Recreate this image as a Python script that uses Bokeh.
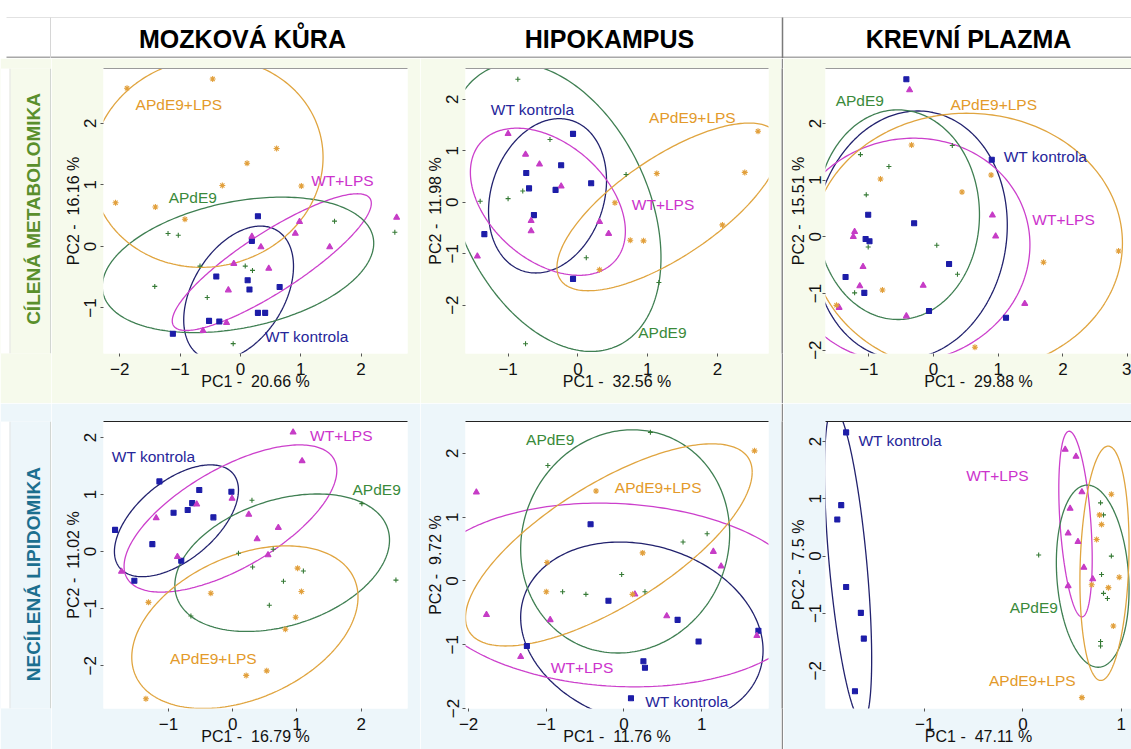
import numpy as np
from bokeh.plotting import figure
from bokeh.layouts import column, row
from bokeh.models import Range1d, FixedTicker, LinearAxis
from bokeh.core.properties import value
from bokeh.embed import file_html
from bokeh.resources import INLINE

FONT = "Liberation Sans"
GROUP_KEYS = ["WT", "LPS", "AP", "APL"]
GROUP_NAMES = {"WT": "WT kontrola", "LPS": "WT+LPS", "AP": "APdE9", "APL": "APdE9+LPS"}
COL_TITLES = ["MOZKOVÁ KŮRA", "HIPOKAMPUS", "KREVNÍ PLAZMA"]
ROW_TITLES = ["CÍLENÁ METABOLOMIKA", "NECÍLENÁ LIPIDOMIKA"]
NB = "\u00a0"

# ---------------- Panel 1: Mozková kůra / cílená metabolomika ----------------
P1_WT = [(0.29, 0.49), (0.19, 0.09), (-0.40, -0.49), (0.12, -0.55), (0.15, -0.70), (0.65, -0.66),
         (0.29, -1.08), (0.41, -1.08), (-0.52, -1.21), (-0.35, -1.22), (-1.12, -1.42)]
P1_LPS = [(2.59, 0.47), (0.98, 0.40), (0.91, 0.21), (0.19, 0.16), (0.34, -0.01), (1.48, -0.01),
          (-0.11, -0.28), (0.47, -0.36), (-0.20, -0.71), (-0.23, -1.24), (-0.62, -1.37)]
P1_AP = [(-1.20, 0.21), (-1.03, 0.18), (1.56, 0.41), (2.56, 0.23), (-0.67, -0.32), (0.08, -0.32),
         (0.20, -0.39), (-1.42, -0.65), (-0.55, -0.83), (-0.12, -1.58)]
P1_APL = [(-1.88, 2.57), (-0.46, 2.72), (0.60, 1.59), (0.11, 1.35), (-0.30, 0.99), (1.01, 0.98),
          (-2.07, 0.71), (-1.41, 0.64), (-0.92, 0.44)]
# ellipse: centre x, centre y, half-width x, half-height y, correlation
P1_ELL = {"WT": (-0.03, -0.76, 0.91, 1.09, 0.40), "LPS": (0.52, -0.255, 1.65, 1.11, 0.86),
          "AP": (-0.04, -0.30, 2.25, 1.10, 0.32), "APL": (-0.55, 1.36, 1.92, 1.70, 0.05)}
P1_LBL = {"WT": (1.10, -1.47), "LPS": (1.69, 1.07), "AP": (-0.79, 0.80), "APL": (-1.02, 2.30)}
P1_AX = ((-2.27, 2.77), (-1.74, 2.89), [-2, -1, 0, 1, 2], [-1, 0, 1, 2], "PC1 -  20.66 %", "PC2 -  16.16 %")

# ---------------- Panel 2: Hipokampus / cílená metabolomika ----------------
P2_WT = [(-0.07, 1.33), (-0.74, 0.57), (-0.24, 0.72), (0.19, 0.37), (-0.70, 0.27), (-0.32, 0.24),
         (-0.63, -0.25), (-1.34, -0.62), (-0.07, -1.49)]
P2_LPS = [(-1.00, 1.33), (-0.75, 0.93), (-0.55, 0.74), (-0.24, 0.31), (-0.67, -0.36), (-0.67, -0.56),
          (0.31, -0.38), (0.44, -0.61), (-1.44, -1.05)]
P2_AP = [(-0.86, 2.39), (-0.40, 1.22), (-1.40, 0.02), (-1.00, 0.07), (-0.79, 0.22), (0.69, 0.54),
         (0.12, -1.08), (1.16, -1.56), (-0.75, -2.75)]
P2_APL = [(2.58, 1.38), (2.39, 0.58), (1.13, 0.56), (0.53, -0.01), (2.07, -0.44), (0.75, -0.74),
          (0.94, -0.75), (0.31, -1.31)]
P2_ELL = {"WT": (-0.435, 0.125, 0.845, 1.50, 0.20), "LPS": (-0.43, 0.01, 1.11, 1.43, -0.40),
          "AP": (-0.35, -0.10, 1.54, 2.80, -0.35), "APL": (1.30, -0.09, 1.60, 1.63, 0.72)}
P2_LBL = {"WT": (-0.65, 1.80), "LPS": (1.22, -0.04), "AP": (1.21, -2.53), "APL": (1.64, 1.64)}
P2_AX = ((-1.61, 2.73), (-2.94, 2.60), [-1, 0, 1, 2], [-2, -1, 0, 1, 2], "PC1 -  32.56 %", "PC2 -  11.98 %")

# ---------------- Panel 3: Krevní plazma / cílená metabolomika ----------------
P3_WT = [(-0.42, 2.78), (0.90, 1.36), (-1.01, 0.39), (-0.30, 0.24), (-1.05, -0.04), (-0.99, -0.08),
         (0.24, -0.48), (-1.36, -0.71), (-1.07, -0.99), (-0.07, -1.31), (1.12, -1.43)]
P3_LPS = [(-0.37, 2.59), (0.91, 0.38), (0.96, 0.01), (-1.22, 0.09), (-1.24, 0.00), (-1.09, -0.53),
          (-1.14, -0.87), (-0.16, -0.86), (1.41, -1.18), (-1.46, -1.25), (-0.42, -1.40)]
P3_AP = [(-1.13, 1.45), (0.29, 1.61), (-0.69, 1.24), (-1.04, 0.74), (-1.01, -0.18), (0.05, -0.15),
         (0.37, -0.66), (-1.22, -0.99)]
P3_APL = [(-0.34, 1.62), (-0.82, 1.02), (0.89, 1.09), (0.44, 0.79), (2.86, -0.25), (1.70, -0.45),
          (-0.79, -0.94), (-1.50, -1.21), (0.64, -1.95)]
P3_ELL = {"WT": (-0.36, 0.03, 1.50, 2.19, 0.08), "LPS": (-0.40, -0.24, 1.89, 1.98, 0.05),
          "AP": (-0.55, 0.39, 1.26, 1.85, 0.0), "APL": (0.52, -0.11, 2.40, 2.29, 0.0)}
P3_LBL = {"WT": (1.73, 1.41), "LPS": (2.01, 0.31), "AP": (-1.14, 2.40), "APL": (0.93, 2.34)}
P3_AX = ((-1.67, 3.06), (-2.06, 2.97), [-1, 0, 1, 2, 3], [-2, -1, 0, 1, 2], "PC1 -  29.88 %", "PC2 -  15.51 %")

# ---------------- Panel 4: Mozková kůra / necílená lipidomika ----------------
P4_WT = [(-1.14, 1.23), (-0.52, 1.08), (-0.02, 1.05), (-0.63, 0.85), (-0.70, 0.73), (-0.92, 0.68),
         (-0.30, 0.60), (-1.83, 0.38), (-1.25, 0.13), (-0.80, -0.16), (-1.53, -0.51)]
P4_LPS = [(0.94, 2.09), (1.08, 1.59), (-0.01, 0.93), (-0.56, 0.83), (-1.19, 0.59), (0.25, 0.65),
          (0.71, 0.42), (0.38, 0.22), (0.55, -0.06), (-0.86, -0.09), (-1.73, -0.35)]
P4_AP = [(0.30, 0.90), (2.01, 0.84), (2.54, -0.50), (0.63, 0.04), (0.09, -0.03), (0.31, -0.27),
         (1.10, -0.34), (0.79, -0.52), (0.57, -0.94), (-0.65, -1.13)]
P4_APL = [(1.01, -0.29), (1.07, -0.70), (-0.34, -0.73), (-1.31, -0.89), (0.98, -1.15), (0.82, -1.36),
          (0.53, -2.09), (0.21, -2.17), (-1.35, -2.58)]
P4_ELL = {"WT": (-0.875, 0.54, 0.965, 0.98, 0.55), "LPS": (-0.035, 0.58, 1.655, 1.29, 0.65),
          "AP": (0.77, -0.195, 1.67, 1.205, 0.33), "APL": (0.19, -1.325, 1.76, 1.425, 0.37)}
P4_LBL = {"WT": (-1.23, 1.67), "LPS": (1.69, 2.03), "AP": (2.24, 1.09), "APL": (-0.30, -1.88)}
P4_AX = ((-2.01, 2.72), (-2.75, 2.28), [-1, 0, 1, 2], [-2, -1, 0, 1, 2], "PC1 -  16.79 %", "PC2 -  11.02 %")

# ---------------- Panel 5: Hipokampus / necílená lipidomika ----------------
P5_WT = [(-0.43, 0.89), (-0.20, -0.31), (0.69, -0.61), (1.73, -0.78), (0.96, -0.95), (-1.25, -1.02),
         (0.25, -1.26), (0.27, -1.36), (0.09, -1.84)]
P5_LPS = [(-1.90, 1.39), (1.15, 0.46), (1.25, 0.23), (0.14, -0.21), (-1.77, -0.53), (-0.95, -0.61),
          (0.55, -0.55), (1.71, -0.86), (-1.33, -1.19)]
P5_AP = [(0.34, 2.33), (-0.98, 1.81), (1.07, 0.74), (0.76, 0.61), (-0.03, 0.10), (-0.79, -0.17),
         (-0.49, -0.21), (0.27, -0.17)]
P5_APL = [(1.68, 2.04), (-0.36, 1.41), (0.24, 0.44), (-0.99, 0.29), (-1.00, -0.17), (0.11, -0.21)]
P5_ELL = {"WT": (0.23, -0.83, 1.56, 1.44, -0.18), "LPS": (-0.09, -0.22, 2.50, 1.44, -0.09),
          "AP": (0.015, 0.62, 1.345, 1.75, 0.07), "APL": (-0.195, 0.565, 1.845, 1.585, 0.72)}
P5_LBL = {"WT": (0.81, -1.89), "LPS": (-0.54, -1.36), "AP": (-0.95, 2.21), "APL": (0.44, 1.47)}
P5_AX = ((-2.04, 1.86), (-2.0, 2.5), [-2, -1, 0, 1], [-2, -1, 0, 1, 2], "PC1 -  11.76 %", "PC2 -  9.72 %")

# ---------------- Panel 6: Krevní plazma / necílená lipidomika ----------------
P6_WT = [(-1.80, 2.16), (-1.85, 0.89), (-1.89, 0.64), (-1.80, -0.54), (-1.65, -0.99), (-1.62, -1.44),
         (-1.71, -2.36)]
P6_LPS = [(0.43, 1.86), (0.54, 1.74), (0.60, 1.12), (0.48, 0.83), (0.46, 0.40), (0.56, 0.25),
          (0.62, -0.20), (0.71, -0.40), (0.46, -0.52)]
P6_AP = [(0.16, 0.02), (0.79, 0.93), (0.82, 0.72), (0.90, 0.0), (0.80, -0.32), (0.82, -0.65),
         (0.86, -0.74), (0.79, -1.49), (0.79, -1.57)]
P6_APL = [(0.90, 1.08), (0.78, 0.72), (0.80, 0.55), (0.75, 0.29), (0.98, -0.37), (0.87, -0.55),
          (0.70, -0.50), (0.92, -1.22), (0.60, -2.47)]
P6_ELL = {"WT": (-1.78, -0.15, 0.24, 2.74, -0.60), "LPS": (0.535, 0.56, 0.17, 1.62, -0.38),
          "AP": (0.71, -0.35, 0.37, 1.59, -0.15), "APL": (0.83, -0.125, 0.25, 2.045, 0.15)}
P6_LBL = {"WT": (-1.25, 2.02), "LPS": (-0.26, 1.41), "AP": (0.11, -0.90), "APL": (0.095, -2.17)}
P6_AX = ((-2.01, 1.105), (-2.66, 2.35), [-1, 0, 1], [-2, -1, 0, 1, 2], "PC1 -  47.11 %", "PC2 -  7.5 %")

# ---------------- styling ----------------
BG1 = "#f6faec"
BG2 = "#edf6fa"
STYLE = {
    "WT": dict(marker="square", size=5, pt="#1d1da8", ell="#22226e", txt="#26269a"),
    "LPS": dict(marker="triangle", size=6, pt="#c63cc6", ell="#cc40cc", txt="#cc33cc"),
    "AP": dict(marker="cross", size=5, pt="#357a35", ell="#3f7f52", txt="#3a8a3a"),
    "APL": dict(marker="asterisk", size=6, pt="#e2a03c", ell="#e0a540", txt="#e39a2a"),
}


def ellipse_xy(e, n=260):
    cx, cy, sx, sy, r = e
    t = np.linspace(0, 2 * np.pi, n)
    return cx + sx * np.cos(t), cy + sy * (r * np.cos(t) + np.sqrt(1 - r * r) * np.sin(t))


def tick_overrides(ticks):
    return {t: ("\u2212%g" % abs(t) if t < 0 else "%g" % t) for t in ticks}


def keep_spaces(s):
    return s.replace("  ", " " + NB)


def panel(ax, pts, ells, lbls, w, h, bl, br, bt, bb, bg, topcol, ystand=4):
    xr, yr, xt, yt, xl, yl = ax
    p = figure(width=w, height=h, x_range=Range1d(*xr), y_range=Range1d(*yr),
               output_backend="svg", toolbar_location=None,
               min_border_left=bl, min_border_right=br, min_border_top=bt, min_border_bottom=bb,
               background_fill_color="white", border_fill_color=bg, outline_line_color=None)
    p.xgrid.visible = False
    p.ygrid.visible = False
    xa, ya = p.xaxis[0], p.yaxis[0]
    xa.ticker = FixedTicker(ticks=xt)
    ya.ticker = FixedTicker(ticks=yt)
    xa.major_label_overrides = tick_overrides(xt)
    ya.major_label_overrides = tick_overrides(yt)
    xa.axis_label = keep_spaces(xl)
    ya.axis_label = keep_spaces(yl)
    for a in (xa, ya):
        a.axis_line_color = None
        a.major_tick_line_color = "#555555"
        a.major_tick_in = 0
        a.major_tick_out = 3
        a.minor_tick_line_color = None
        a.major_label_text_font = FONT
        a.major_label_text_font_size = "17px"
        a.major_label_text_color = "#111111"
        a.axis_label_text_font = FONT
        a.axis_label_text_font_size = "16px"
        a.axis_label_text_font_style = "normal"
        a.axis_label_text_color = "#111111"
    xa.major_label_standoff = 6
    xa.axis_label_standoff = -5
    ya.major_label_orientation = "vertical"
    ya.major_label_standoff = ystand
    ya.axis_label_standoff = 0
    top = LinearAxis(ticker=FixedTicker(ticks=[]), axis_line_color=topcol, axis_line_width=1.2,
                     major_tick_line_color=None, minor_tick_line_color=None,
                     major_label_text_font_size="0px")
    p.add_layout(top, "above")

    for k in GROUP_KEYS:
        ex, ey = ellipse_xy(ells[k])
        p.line(ex, ey, line_color=STYLE[k]["ell"], line_width=1.3)
    for k in GROUP_KEYS:
        s = STYLE[k]
        xs = [q[0] for q in pts[k]]
        ys = [q[1] for q in pts[k]]
        p.scatter(xs, ys, marker=s["marker"], size=s["size"], fill_color=s["pt"],
                  line_color=s["pt"], line_width=1.1)
    for k in GROUP_KEYS:
        p.text(x=[lbls[k][0]], y=[lbls[k][1]], text=[GROUP_NAMES[k]], text_color=STYLE[k]["txt"],
               text_font=value(FONT), text_font_size=value("15.5px"),
               text_align="center", text_baseline="middle")
    return p


def header_fig():
    f = figure(width=1131, height=58, x_range=Range1d(0, 1131), y_range=Range1d(-58, 0),
               output_backend="svg", toolbar_location=None, x_axis_type=None, y_axis_type=None,
               min_border=0, outline_line_color=None,
               background_fill_color="white", border_fill_color="white")
    f.segment(x0=[6], y0=[-17], x1=[1131], y1=[-17], line_color="#e2e2e2", line_width=1)
    f.segment(x0=[6], y0=[-57], x1=[1131], y1=[-57], line_color="#a8a8a8", line_width=2)
    f.segment(x0=[50], y0=[-17], x1=[50], y1=[-58], line_color="#d6d6d6", line_width=1)
    f.segment(x0=[782], y0=[-17], x1=[782], y1=[-58], line_color="#7a7a7a", line_width=1.5)
    f.text(x=[242, 609, 968], y=[-38, -38, -38], text=COL_TITLES, text_color="#000000",
           text_font=value(FONT), text_font_size=value("25px"), text_font_style="bold",
           text_align="center", text_baseline="middle")
    return f


def label_fig(h, y0, y1, text, color, cy, bg):
    f = figure(width=51, height=h, x_range=Range1d(0, 51), y_range=Range1d(-y1, -y0),
               output_backend="svg", toolbar_location=None, x_axis_type=None, y_axis_type=None,
               min_border=0, outline_line_color=None,
               background_fill_color=bg, border_fill_color=bg)
    f.quad(left=[0], right=[9], bottom=[-y1], top=[-y0], fill_color="white", line_color=None)
    f.segment(x0=[9.5], y0=[-y0], x1=[9.5], y1=[-y1], line_color="#e4e4e4", line_width=1)
    f.segment(x0=[50], y0=[-y0], x1=[50], y1=[-y1], line_color="#d2d6d2", line_width=1)
    f.text(x=[33], y=[-cy], text=[text], angle=np.pi / 2, text_color=color,
           text_font=value(FONT), text_font_size=value("19px"), text_font_style="bold",
           text_align="center", text_baseline="middle")
    return f


def sep_fig(h):
    f = figure(width=2, height=h, x_range=Range1d(0, 1), y_range=Range1d(0, 1),
               output_backend="svg", toolbar_location=None, x_axis_type=None, y_axis_type=None,
               min_border=0, outline_line_color=None,
               background_fill_color="#8a8a8a", border_fill_color="#8a8a8a")
    return f


def pts(wt, lps, ap, apl):
    return {"WT": wt, "LPS": lps, "AP": ap, "APL": apl}


p1 = panel(P1_AX, pts(P1_WT, P1_LPS, P1_AP, P1_APL), P1_ELL, P1_LBL, 369, 345, 52, 13, 10, 46, BG1, "#9a9a9a")
p2 = panel(P2_AX, pts(P2_WT, P2_LPS, P2_AP, P2_APL), P2_ELL, P2_LBL, 361, 345, 45, 13, 10, 46, BG1, "#9a9a9a")
p3 = panel(P3_AX, pts(P3_WT, P3_LPS, P3_AP, P3_APL), P3_ELL, P3_LBL, 348, 345, 42, 0, 10, 50, BG1, "#9a9a9a", ystand=1)
p4 = panel(P4_AX, pts(P4_WT, P4_LPS, P4_AP, P4_APL), P4_ELL, P4_LBL, 369, 346, 52, 13, 17, 41, BG2, "#222222")
p5 = panel(P5_AX, pts(P5_WT, P5_LPS, P5_AP, P5_APL), P5_ELL, P5_LBL, 361, 346, 45, 13, 17, 41, BG2, "#222222")
p6 = panel(P6_AX, pts(P6_WT, P6_LPS, P6_AP, P6_APL), P6_ELL, P6_LBL, 348, 346, 42, 0, 18, 38, BG2, "#222222", ystand=1)

r1 = row(label_fig(345, 58, 403, ROW_TITLES[0], "#5a8f2c", 228, BG1), p1, p2, sep_fig(345), p3)
r2 = row(label_fig(346, 403, 749, ROW_TITLES[1], "#1c6f8f", 587, BG2), p4, p5, sep_fig(346), p6)
layout = column(header_fig(), r1, r2)

open("out.html", "w").write(file_html(layout, INLINE))
